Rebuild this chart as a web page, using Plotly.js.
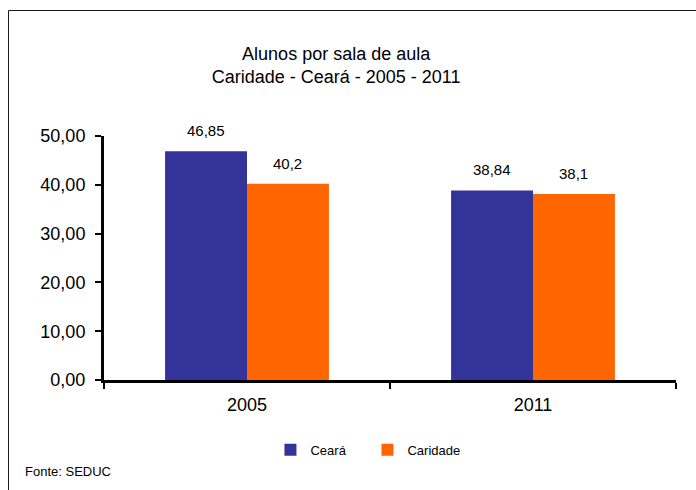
<!DOCTYPE html>
<html>
<head>
<meta charset="utf-8">
<script src="https://cdn.plot.ly/plotly-3.0.1.min.js"></script>
<style>
  html, body { margin: 0; padding: 0; background: #ffffff; overflow: hidden; }
  #chart { width: 696px; height: 490px; }
</style>
</head>
<body>
<div id="chart"></div>
<script>
// ---- data ----
const categories = ["2005", "2011"];
const seriesNames = ["Ceará", "Caridade"];
const cearaValues = [46.85, 38.84];
const caridadeValues = [40.2, 38.1];
const yTickValues = [0, 10, 20, 30, 40, 50];
const titleLines = ["Alunos por sala de aula", "Caridade - Ceará - 2005 - 2011"];
const sourceNote = "Fonte: SEDUC";

// ---- styles ----
const colors = ["#333399", "#FF6600"];
const fontFamily = "'Liberation Sans', Arial, Helvetica, sans-serif";
const bargap = 0.427;

const seriesValues = [cearaValues, caridadeValues];
const fmt = v => String(v).replace(".", ",");

const traces = seriesValues.map((vals, i) => ({
  type: "bar",
  name: seriesNames[i],
  x: categories,
  y: vals,
  marker: { color: colors[i], line: { width: 0 } },
  hoverinfo: "x+y+name"
}));

// value labels placed above each bar, through the category axis
const barOffset = (1 - bargap) / 4;
const annotations = [];
seriesValues.forEach((vals, s) => {
  vals.forEach((v, c) => {
    annotations.push({
      xref: "x", yref: "y",
      x: c + (s === 0 ? -barOffset : barOffset),
      y: v,
      yshift: 20.5,
      yanchor: "middle",
      xanchor: "center",
      text: fmt(v),
      showarrow: false,
      font: { family: fontFamily, size: 15, color: "#000000" }
    });
  });
});
annotations.push({
  xref: "paper", yref: "paper",
  x: -0.141, y: -0.374,
  xanchor: "left", yanchor: "middle",
  text: sourceNote,
  showarrow: false,
  font: { family: fontFamily, size: 13, color: "#000000" }
});

const layout = {
  width: 696,
  height: 490,
  paper_bgcolor: "#ffffff",
  plot_bgcolor: "#ffffff",
  separators: ",.",
  font: { family: fontFamily, color: "#000000" },
  margin: { l: 104, r: 20, t: 136, b: 110, pad: 0 },
  title: {
    text: titleLines.join("<br>"),
    x: 0.483, xref: "container", xanchor: "center",
    y: 1 - 60 / 490, yref: "container", yanchor: "middle",
    font: { family: fontFamily, size: 18, color: "#000000" }
  },
  barmode: "group",
  bargap: bargap,
  bargroupgap: 0,
  xaxis: {
    type: "category",
    showgrid: false,
    zeroline: false,
    showline: true,
    linecolor: "#000000",
    linewidth: 3,
    ticks: "outside",
    tickson: "boundaries",
    ticklen: 6,
    tickwidth: 2,
    tickcolor: "#000000",
    tickfont: { family: fontFamily, size: 18, color: "#000000" },
    ticklabelstandoff: 6
  },
  yaxis: {
    range: [0, 50],
    tickvals: yTickValues,
    tickformat: ".2f",
    showgrid: false,
    zeroline: false,
    showline: true,
    linecolor: "#000000",
    linewidth: 3,
    ticks: "outside",
    ticklen: 6,
    tickwidth: 2,
    tickcolor: "#000000",
    tickfont: { family: fontFamily, size: 18, color: "#000000" },
    ticklabelstandoff: 6
  },
  showlegend: true,
  legend: {
    orientation: "h",
    x: 0.291, xanchor: "left",
    y: -0.286, yanchor: "middle",
    bgcolor: "rgba(0,0,0,0)",
    font: { family: fontFamily, size: 13, color: "#000000" },
    entrywidth: 52,
    traceorder: "normal"
  },
  annotations: annotations,
  shapes: [{
    type: "rect",
    xref: "paper", yref: "paper",
    x0: (8.5 - 104) / 572, x1: 2,
    y0: -2, y1: (380 - 10.5) / 244,
    line: { color: "#1a1a1a", width: 1 },
    fillcolor: "rgba(0,0,0,0)",
    layer: "below"
  }]
};

Plotly.newPlot("chart", traces, layout, { displayModeBar: false, staticPlot: true });
</script>
</body>
</html>
